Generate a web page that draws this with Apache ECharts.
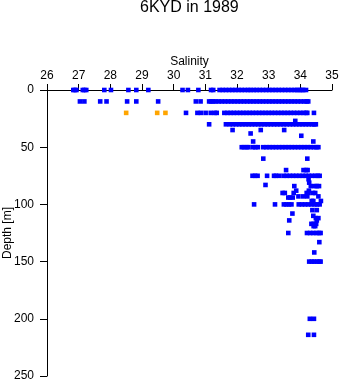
<!DOCTYPE html>
<html>
<head>
<meta charset="utf-8">
<script src="https://cdn.jsdelivr.net/npm/echarts@6/dist/echarts.min.js"></script>
<style>html,body{margin:0;padding:0;background:#fff}#c{width:341px;height:384px}</style>
</head>
<body>
<div id="c"></div>
<script>
// Observation depths (m) and the salinities observed at each depth
const depthLevels = [0, 10, 20, 27, 30, 35, 38, 40, 45, 50, 60, 70, 75, 78, 81, 83, 84, 88, 90, 93, 94, 97, 100, 105, 108, 110, 112, 114, 117, 119, 125, 133, 142, 150, 200, 214];
const salinityAtDepth = [
  [26.83, 26.88, 26.93, 27.13, 27.18, 27.24, 27.81, 28.02, 28.57, 28.82, 29.2, 30.28, 30.45, 30.78, 31.18, 31.25,
   31.45, 31.55, 31.65, 31.75, 31.85, 31.95, 32.05, 32.15, 32.25, 32.35, 32.43, 32.53, 32.62, 32.72, 32.82, 32.92, 33.02, 33.12, 33.22, 33.32, 33.42, 33.52, 33.62, 33.72, 33.82, 33.9, 33.97, 34.04, 34.09, 34.18],
  [27.04, 27.18, 27.68, 27.88, 28.53, 28.82, 29.51, 30.7, 30.85, 31.12, 31.18, 31.25,
   31.32, 31.42, 31.52, 31.62, 31.72, 31.82, 31.92, 32.02, 32.12, 32.22, 32.32, 32.42, 32.52, 32.62, 32.72, 32.82, 32.92, 33.02, 33.12, 33.22, 33.32, 33.42, 33.52, 33.62, 33.72, 33.82, 33.92, 34.02, 34.12, 34.2, 34.25],
  [30.39, 30.75, 30.86, 31.01, 31.17, 31.3, 31.36,
   31.6, 31.7, 31.8, 31.9, 32.0, 32.1, 32.2, 32.3, 32.4, 32.5, 32.6, 32.7, 32.8, 32.9, 33.0, 33.1, 33.2, 33.3, 33.4, 33.5, 33.6, 33.7, 33.8, 33.9, 34.0, 34.1, 34.18, 34.22, 34.43],
  [33.84],
  [31.12, 31.65,
   31.77, 31.87, 31.97, 32.07, 32.17, 32.27, 32.37, 32.47, 32.57, 32.67, 32.77, 32.87, 32.97, 33.07, 33.17, 33.27, 33.37, 33.47, 33.57, 33.67, 33.77, 33.87, 33.97, 34.07, 34.17, 34.27, 34.37, 34.44, 34.49],
  [31.86, 32.75, 33.49],
  [32.43],
  [34.03],
  [32.51, 34.41],
  [32.15, 32.22, 32.3, 32.36, 32.5, 32.58, 32.66, 32.83,
   32.93, 33.03, 33.13, 33.23, 33.33, 33.43, 33.53, 33.63, 33.73, 33.83, 33.93, 34.03, 34.13, 34.23, 34.33, 34.43, 34.51, 34.57],
  [32.83, 34.22],
  [33.55, 34.1, 34.18, 34.23],
  [32.49, 32.57, 32.65, 32.95, 33.17, 33.23, 33.33,
   33.47, 33.57, 33.67, 33.77, 33.87, 33.97, 34.07, 34.17, 34.27, 34.37, 34.47, 34.55, 34.61],
  [34.26],
  [34.28],
  [32.9],
  [33.81, 34.33, 34.46, 34.52, 34.59],
  [33.87, 34.27],
  [33.44, 33.51, 33.79, 34.2, 34.26, 34.4, 34.47],
  [33.94, 34.09, 34.22, 34.57],
  [33.62, 33.68, 33.76],
  [34.36, 34.41, 34.65],
  [32.54, 33.2, 33.48, 33.56, 33.64, 33.72,
   33.95, 34.05, 34.15, 34.25, 34.35, 34.45, 34.53, 34.61],
  [34.38, 34.52],
  [33.75],
  [34.41],
  [34.49, 34.57],
  [33.65, 34.52],
  [34.35, 34.42, 34.5],
  [34.42, 34.47],
  [33.62, 34.21, 34.31, 34.41, 34.51, 34.59, 34.64],
  [34.6],
  [34.44],
  [34.28, 34.36, 34.44, 34.52, 34.6, 34.64],
  [34.3, 34.43],
  [34.25, 34.43]
];
// Orange (separately flagged) observations
const orangeDepth = [20, 20, 20];
const orangeSalinity = [28.5, 29.48, 29.74];
// Tick settings
const salinityTicks = [26, 35, 1];
const depthTicks = [0, 250, 50];

const blueData = [];
depthLevels.forEach((d, i) => salinityAtDepth[i].forEach(s => blueData.push([s, d])));
const orangeData = orangeSalinity.map((s, i) => [s, orangeDepth[i]]);

const font = '"Liberation Sans", Arial, Helvetica, sans-serif';
const chart = echarts.init(document.getElementById('c'), null, {renderer: 'canvas'});
chart.setOption({
  animation: false,
  backgroundColor: '#fff',
  title: {
    text: '6KYD in 1989', left: 140, top: 0, padding: 0,
    textStyle: {fontFamily: font, fontSize: 16, fontWeight: 'normal', color: '#000'}
  },
  grid: {left: 47, right: 9, top: 90, bottom: 8, containLabel: false, outerBoundsMode: 'none'},
  xAxis: {
    type: 'value', position: 'top', min: salinityTicks[0], max: salinityTicks[1], interval: salinityTicks[2],
    name: 'Salinity', nameLocation: 'middle', nameGap: 22, nameMoveOverlap: false,
    nameTextStyle: {fontFamily: font, fontSize: 12, color: '#000'},
    axisLine: {show: true, lineStyle: {color: '#000', width: 1}},
    axisTick: {show: true, length: 6, lineStyle: {color: '#000'}},
    axisLabel: {fontFamily: font, fontSize: 12, color: '#000', margin: 8},
    splitLine: {show: false}
  },
  yAxis: {
    type: 'value', inverse: true, min: depthTicks[0], max: depthTicks[1], interval: depthTicks[2],
    name: 'Depth [m]', nameLocation: 'middle', nameGap: 33, nameRotate: 90, nameMoveOverlap: false,
    nameTextStyle: {fontFamily: font, fontSize: 12, color: '#000'},
    axisLine: {show: true, lineStyle: {color: '#000', width: 1}},
    axisTick: {show: true, length: 7, lineStyle: {color: '#000'}},
    axisLabel: {fontFamily: font, fontSize: 12, color: '#000', margin: 13},
    splitLine: {show: false}
  },
  series: [
    {type: 'scatter', data: blueData, symbol: 'rect', symbolSize: 4.6, itemStyle: {color: '#0000ff', opacity: 1}, silent: true},
    {type: 'scatter', data: orangeData, symbol: 'rect', symbolSize: 4.6, itemStyle: {color: '#ffa500', opacity: 1}, silent: true}
  ]
});
</script>
</body>
</html>
